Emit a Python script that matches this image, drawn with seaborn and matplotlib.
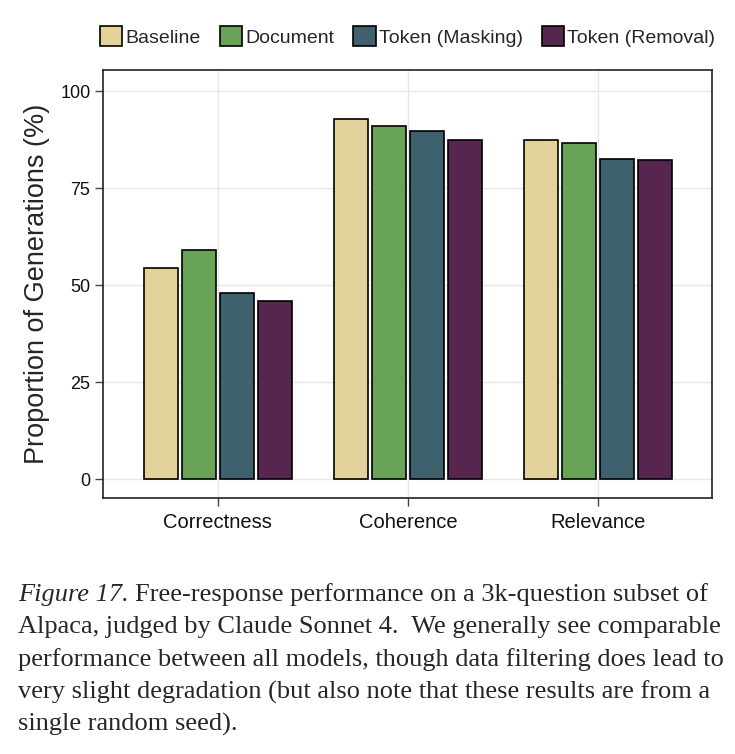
import pandas as pd
import matplotlib
matplotlib.use("Agg")
import matplotlib.pyplot as plt
import seaborn as sns

# Data
metrics = ["Correctness", "Coherence", "Relevance"]
models = ["Baseline", "Document", "Token (Masking)", "Token (Removal)"]
baseline = [54.5, 92.8, 87.4]
document = [59.0, 91.0, 86.6]
token_masking = [48.0, 89.7, 82.4]
token_removal = [46.0, 87.5, 82.2]
colors = ["#E3D29A", "#68A357", "#3F616D", "#57264F"]
yticks = [0, 25, 50, 75, 100]

caption_lines = [
    "Free-response performance on a 3k-question subset of",
    "Alpaca, judged by Claude Sonnet 4.  We generally see comparable",
    "performance between all models, though data filtering does lead to",
    "very slight degradation (but also note that these results are from a",
    "single random seed).",
]

rows = []
for model, vals in zip(models, [baseline, document, token_masking, token_removal]):
    for metric, v in zip(metrics, vals):
        rows.append({"metric": metric, "model": model, "value": v})
df = pd.DataFrame(rows)

sns.set_theme(style="white")
plt.rcParams["font.family"] = ["Liberation Sans", "DejaVu Sans"]

fig = plt.figure(figsize=(7.35, 7.54), dpi=100)
ax = fig.add_axes([0.140, 0.340, 0.829, 0.567])

sns.barplot(data=df, x="metric", y="value", hue="model", order=metrics,
            hue_order=models, palette=colors, width=0.8, gap=0.1,
            edgecolor="black", linewidth=1.2, saturation=1, ax=ax, zorder=3)

ax.set_xlim(-0.605, 2.6)
ax.set_ylim(-4.7, 105.4)
ax.set_yticks(yticks)
ax.grid(True, color="#e6e6e6", linewidth=1, zorder=0)
ax.set_axisbelow(True)
for s in ax.spines.values():
    s.set_color("#222222")
    s.set_linewidth(1.2)
ax.tick_params(axis="both", direction="out", length=6, width=1, color="#444444",
               labelsize=13, labelcolor="#111111", bottom=True, left=True)
ax.tick_params(axis="x", labelsize=14.5, pad=5)
ax.tick_params(axis="y", pad=3)
ax.set_xlabel("")
ax.set_ylabel("Proportion of Generations (%)", fontsize=19.5, labelpad=7)

ax.legend(loc="lower center", bbox_to_anchor=(0.5, 1.037), ncol=4, frameon=False,
          fontsize=14, handlelength=1.15, handleheight=1.15, handletextpad=0.15,
          columnspacing=1.0, borderaxespad=0)

# caption
serif = ["Liberation Serif", "DejaVu Serif"]
y0 = 0.203
dy = 32.5 / 754
fig.canvas.draw()
r = fig.canvas.get_renderer()
t = fig.text(18 / 735, y0, "Figure 17.", family=serif, style="italic",
             fontsize=19, va="baseline", ha="left")
bb = t.get_window_extent(renderer=r)
fig.text((bb.x1 + 6) / 735, y0, caption_lines[0], family=serif, fontsize=19,
         va="baseline", ha="left")
for i, line in enumerate(caption_lines[1:], start=1):
    fig.text(18 / 735, y0 - i * dy, line, family=serif, fontsize=19,
             va="baseline", ha="left")

fig.savefig("out.png", dpi=100)
